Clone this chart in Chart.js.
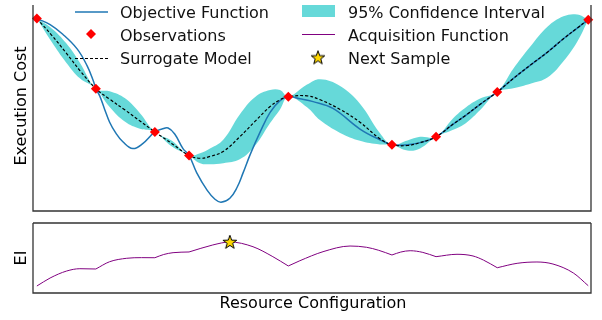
<!DOCTYPE html>
<html>
<head>
<meta charset="utf-8">
<script src="https://cdn.jsdelivr.net/npm/chart.js@4.4.1/dist/chart.umd.min.js"></script>
<style>
  body { margin: 0; background: #fff; }
  #wrap { position: relative; width: 602px; height: 320px; }
  canvas { position: absolute; left: 0; }
  #top { top: 0; }
  #bottom { top: 216px; }
</style>
</head>
<body>
<div id="wrap">
  <canvas id="top" width="602" height="216"></canvas>
  <canvas id="bottom" width="602" height="104"></canvas>
</div>
<script>
// observed configurations
const obsX = [0, 1.07, 2.14, 2.76, 4.56, 6.44, 7.24, 8.35, 10.0];
const obsY = [9.34, 5.94, 3.84, 2.70, 5.55, 3.22, 3.60, 5.78, 9.29];

// true objective function
const objX = [0, 0.24, 0.47, 0.73, 0.91, 1.02, 1.07, 1.14, 1.23, 1.32, 1.43, 1.56, 1.74, 1.92, 2.14, 2.27, 2.38, 2.50, 2.65, 2.76, 2.90, 3.09, 3.23, 3.34, 3.50, 3.63, 3.74, 3.87, 4.05, 4.23, 4.41, 4.56, 4.77, 5.01, 5.37, 5.86, 6.22, 6.44, 6.72, 6.95, 7.24, 7.55, 7.79, 8.04, 8.35, 8.64, 8.95, 9.26, 9.55, 9.80, 10.0];
const objY = [9.34, 9.05, 8.58, 7.87, 7.06, 6.35, 5.94, 5.59, 4.93, 4.31, 3.79, 3.36, 3.03, 3.27, 3.84, 3.98, 4.03, 3.74, 3.03, 2.70, 1.85, 1.00, 0.57, 0.43, 0.62, 1.14, 1.85, 2.75, 3.84, 4.79, 5.36, 5.55, 5.45, 5.31, 4.98, 3.98, 3.46, 3.22, 3.22, 3.32, 3.60, 4.22, 4.67, 5.18, 5.78, 6.43, 7.08, 7.71, 8.36, 8.88, 9.29];

// surrogate model mean and half width of the 95% interval
const gpX = [0, 0.27, 0.53, 0.78, 1.07, 1.32, 1.60, 1.87, 2.14, 2.45, 2.76, 2.96, 3.14, 3.38, 3.68, 3.96, 4.23, 4.41, 4.56, 4.90, 5.14, 5.50, 5.86, 6.22, 6.44, 6.72, 6.95, 7.24, 7.55, 7.79, 8.04, 8.35, 8.64, 8.95, 9.26, 9.55, 9.80, 10.0];
const gpMean = [9.34, 8.53, 7.68, 6.82, 5.94, 5.43, 4.90, 4.37, 3.84, 3.27, 2.70, 2.56, 2.65, 2.89, 3.60, 4.36, 5.07, 5.40, 5.55, 5.59, 5.40, 4.93, 4.31, 3.51, 3.22, 3.18, 3.32, 3.60, 4.22, 4.67, 5.18, 5.78, 6.43, 7.08, 7.71, 8.36, 8.88, 9.29];
const gpCI = [0, 0.33, 0.47, 0.38, 0, 0.38, 0.57, 0.38, 0, 0.14, 0, 0.24, 0.38, 0.57, 1.09, 1.18, 0.80, 0.47, 0, 0.55, 1.0, 1.14, 0.90, 0.28, 0, 0.24, 0.28, 0, 0.28, 0.38, 0.28, 0, 0.47, 0.90, 1.23, 1.09, 0.66, 0];

// expected improvement
const eiX = [0, 0.24, 0.54, 0.78, 1.07, 1.32, 1.63, 1.90, 2.14, 2.30, 2.47, 2.76, 3.19, 3.50, 3.92, 4.28, 4.56, 4.77, 5.19, 5.68, 5.98, 6.20, 6.44, 6.60, 6.77, 7.00, 7.24, 7.62, 7.91, 8.10, 8.35, 8.71, 9.07, 9.36, 9.73, 10.0];
const eiY = [0.10, 0.214, 0.314, 0.347, 0.343, 0.447, 0.496, 0.505, 0.504, 0.55, 0.576, 0.586, 0.686, 0.729, 0.661, 0.519, 0.386, 0.461, 0.59, 0.671, 0.653, 0.61, 0.543, 0.585, 0.604, 0.58, 0.519, 0.553, 0.529, 0.47, 0.361, 0.424, 0.443, 0.414, 0.286, 0.104];

const nextX = 3.50;
const nextEI = 0.729;

const FONT = '16px "DejaVu Sans"';
const BLUE = '#1f77b4';
const BAND = 'rgba(0,191,191,0.6)';
const PURPLE = '#800080';

function pts(xs, ys) {
  return xs.map((x, i) => ({ x, y: ys[i] }));
}

function makeStar() {
  const c = document.createElement('canvas');
  c.width = 18; c.height = 18;
  const g = c.getContext('2d');
  g.beginPath();
  for (let i = 0; i < 10; i++) {
    const r = i % 2 ? 2.9 : 7.2;
    const a = -Math.PI / 2 + i * Math.PI / 5;
    g.lineTo(9 + r * Math.cos(a), 9.5 + r * Math.sin(a));
  }
  g.closePath();
  g.fillStyle = '#ffd700';
  g.fill();
  g.strokeStyle = '#000';
  g.lineWidth = 1;
  g.stroke();
  return c;
}
const starImg = makeStar();

const xScale = { type: 'linear', min: -0.07, max: 10.05, display: false };

function frame(sides) {
  return {
    id: 'frame',
    afterDraw(chart) {
      const { ctx, chartArea: a } = chart;
      ctx.save();
      ctx.strokeStyle = '#333';
      ctx.lineWidth = 1.3;
      ctx.beginPath();
      if (sides.top) { ctx.moveTo(a.left, a.top); ctx.lineTo(a.right, a.top); }
      ctx.moveTo(a.left, a.top); ctx.lineTo(a.left, a.bottom);
      ctx.lineTo(a.right, a.bottom); ctx.lineTo(a.right, a.top);
      ctx.stroke();
      ctx.restore();
    }
  };
}

function yTitle(ctx, text, x, y) {
  ctx.save();
  ctx.translate(x, y);
  ctx.rotate(-Math.PI / 2);
  ctx.font = FONT;
  ctx.fillStyle = '#000';
  ctx.textAlign = 'center';
  ctx.textBaseline = 'middle';
  ctx.fillText(text, 0, 0);
  ctx.restore();
}

const legend = {
  id: 'legendBox',
  afterDraw(chart) {
    const ctx = chart.ctx;
    ctx.save();
    ctx.lineWidth = 1.5;
    ctx.strokeStyle = BLUE;
    ctx.beginPath(); ctx.moveTo(75, 12); ctx.lineTo(108, 12); ctx.stroke();

    ctx.fillStyle = 'red';
    ctx.beginPath();
    ctx.moveTo(91, 29); ctx.lineTo(96, 34); ctx.lineTo(91, 39); ctx.lineTo(86, 34);
    ctx.closePath(); ctx.fill();

    ctx.strokeStyle = '#000';
    ctx.lineWidth = 1.2;
    ctx.setLineDash([3, 2]);
    ctx.beginPath(); ctx.moveTo(75, 58.5); ctx.lineTo(108, 58.5); ctx.stroke();
    ctx.setLineDash([]);

    ctx.fillStyle = BAND;
    ctx.fillRect(302, 5, 33, 12);

    ctx.strokeStyle = PURPLE;
    ctx.lineWidth = 1;
    ctx.beginPath(); ctx.moveTo(302, 34.5); ctx.lineTo(335, 34.5); ctx.stroke();

    ctx.drawImage(starImg, 318 - 9, 58 - 9.5);

    ctx.font = FONT;
    ctx.fillStyle = '#111';
    ctx.textBaseline = 'alphabetic';
    ctx.fillText('Objective Function', 120, 17.5);
    ctx.fillText('Observations', 120, 40.5);
    ctx.fillText('Surrogate Model', 120, 64);
    ctx.fillText('95% Confidence Interval', 348, 17.5);
    ctx.fillText('Acquisition Function', 348, 40.5);
    ctx.fillText('Next Sample', 348, 64);
    ctx.restore();

    yTitle(ctx, 'Execution Cost', 22, 106);
  }
};

new Chart(document.getElementById('top'), {
  type: 'line',
  data: {
    datasets: [
      {
        label: 'Observations',
        data: pts(obsX, obsY),
        showLine: false,
        pointStyle: 'rectRot',
        pointRadius: 5,
        backgroundColor: 'red',
        borderColor: 'red',
        borderWidth: 0,
        clip: false,
        order: 0
      },
      {
        label: 'Surrogate Model',
        data: pts(gpX, gpMean),
        borderColor: '#000',
        borderWidth: 1.2,
        borderDash: [3, 2],
        pointRadius: 0,
        fill: false,
        tension: 0.4,
        order: 1
      },
      {
        label: 'Objective Function',
        data: pts(objX, objY),
        borderColor: BLUE,
        borderWidth: 1.5,
        pointRadius: 0,
        fill: false,
        tension: 0.4,
        order: 2
      },
      {
        label: '95% Confidence Interval',
        data: gpX.map((x, i) => ({ x, y: gpMean[i] + gpCI[i] })),
        borderColor: 'transparent',
        backgroundColor: BAND,
        pointRadius: 0,
        fill: '+1',
        tension: 0.4,
        order: 3
      },
      {
        label: 'lower',
        data: gpX.map((x, i) => ({ x, y: gpMean[i] - gpCI[i] })),
        borderColor: 'transparent',
        pointRadius: 0,
        fill: false,
        tension: 0.4,
        order: 4
      }
    ]
  },
  options: {
    responsive: false,
    animation: false,
    events: [],
    layout: { padding: { left: 33, right: 11, top: 0, bottom: 5 } },
    scales: {
      x: xScale,
      y: { type: 'linear', min: 0, max: 10, display: false }
    },
    plugins: { legend: { display: false }, tooltip: { enabled: false } }
  },
  plugins: [frame({ top: false }), legend]
});

// split the EI curve at the observed points, where it has corners
const eiSegments = [];
let seg = [];
eiX.forEach((x, i) => {
  seg.push({ x, y: eiY[i] });
  if (i > 0 && i < eiX.length - 1 && obsX.includes(x)) {
    eiSegments.push(seg);
    seg = [{ x, y: eiY[i] }];
  }
});
eiSegments.push(seg);

const bottomSets = [{
  label: 'Next Sample',
  data: [{ x: nextX, y: nextEI }],
  showLine: false,
  pointStyle: starImg,
  clip: false,
  order: 0
}];
eiSegments.forEach(s => bottomSets.push({
  label: 'Acquisition Function',
  data: s,
  borderColor: PURPLE,
  borderWidth: 1,
  pointRadius: 0,
  fill: false,
  cubicInterpolationMode: 'monotone',
  order: 1
}));

new Chart(document.getElementById('bottom'), {
  type: 'line',
  data: { datasets: bottomSets },
  options: {
    responsive: false,
    animation: false,
    events: [],
    layout: { padding: { left: 33, right: 11, top: 7, bottom: 27 } },
    scales: {
      x: xScale,
      y: { type: 'linear', min: 0, max: 1, display: false }
    },
    plugins: { legend: { display: false }, tooltip: { enabled: false } }
  },
  plugins: [frame({ top: true }), {
    id: 'titles',
    afterDraw(chart) {
      const ctx = chart.ctx;
      yTitle(ctx, 'EI', 22, 42);
      ctx.save();
      ctx.font = FONT;
      ctx.fillStyle = '#000';
      ctx.textAlign = 'center';
      ctx.textBaseline = 'alphabetic';
      ctx.fillText('Resource Configuration', 313, 92);
      ctx.restore();
    }
  }]
});
</script>
</body>
</html>
